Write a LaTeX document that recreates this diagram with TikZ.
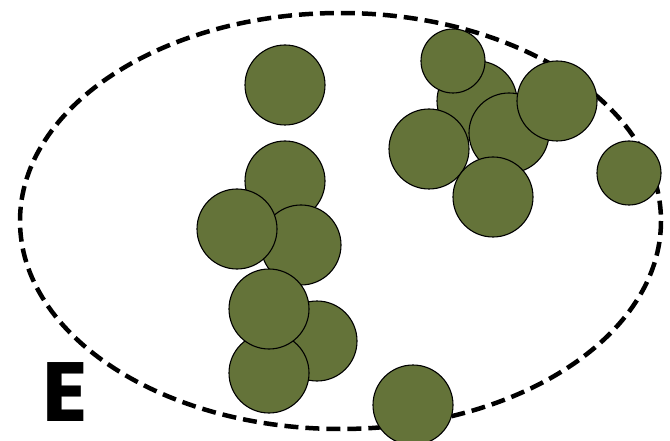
\documentclass[tikz,border=0pt]{standalone}
\usepackage{fontspec}
\newfontfamily\labelfont{Poppins}
\begin{document}
\begin{tikzpicture}[x=1pt,y=-1pt,
  ball/.style={circle,draw=black,line width=1.1pt,fill=ballgreen,minimum size=80pt,inner sep=0pt},
  smallball/.style={ball,minimum size=64pt},
  region/.style={draw=black,line width=4.5pt,dash pattern=on 14pt off 7pt}]
\definecolor{ballgreen}{HTML}{647339}
\useasboundingbox (0,0) rectangle (670,441);
\draw[region] (340.5,221) ellipse [x radius=320.5, y radius=208];
% top cluster
\node[ball] (c3) at (477,101) {};
\node[smallball] (c2) at (453,61) {};
\node[ball] (c5) at (509,133) {};
\node[ball] (c4) at (557,101) {};
\node[ball] (c6) at (429,149) {};
\node[ball] (c8) at (493,197) {};
\node[smallball] (c7) at (629,173) {};
% left cluster
\node[ball] (c1) at (285,85) {};
\node[ball] (c9) at (285,181) {};
\node[ball] (c10) at (301,245) {};
\node[ball] (c11) at (237,229) {};
\node[ball] (c12) at (317,341) {};
\node[ball] (c14) at (269,373) {};
\node[ball] (c13) at (269,309) {};
\node[ball] (c15) at (413,405) {};
\node[font=\labelfont\bfseries\fontsize{84}{84}\selectfont,inner sep=3pt,anchor=base west] (lbl) at (39,421) {E};
\end{tikzpicture}
\end{document}
